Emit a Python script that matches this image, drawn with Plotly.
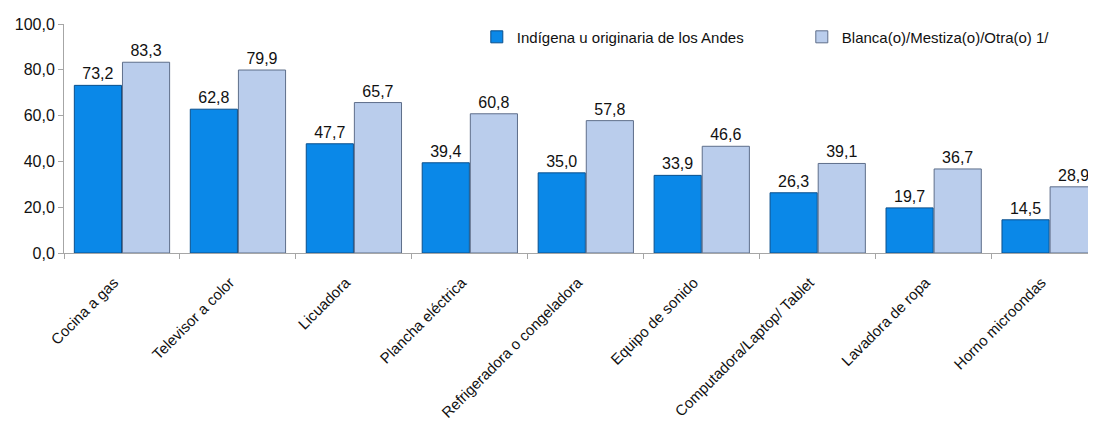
import plotly.graph_objects as go

categories = ["Cocina a gas", "Televisor a color", "Licuadora", "Plancha eléctrica",
              "Refrigeradora o congeladora", "Equipo de sonido",
              "Computadora/Laptop/ Tablet", "Lavadora de ropa", "Horno microondas"]
indigena = [73.2, 62.8, 47.7, 39.4, 35.0, 33.9, 26.3, 19.7, 14.5]
blanca = [83.3, 79.9, 65.7, 60.8, 57.8, 46.6, 39.1, 36.7, 28.9]
series_names = ["Indígena u originaria de los Andes", "Blanca(o)/Mestiza(o)/Otra(o) 1/"]
y_ticks = [0, 20, 40, 60, 80, 100]

font_family = "Liberation Sans, Arial, sans-serif"

fig = go.Figure()
fig.add_trace(go.Bar(
    x=categories, y=indigena, name=series_names[0],
    marker=dict(color="#0A88E8", line=dict(color="#0A4F8C", width=1)),
    text=[f"{v:.1f}".replace(".", ",") for v in indigena],
    textposition="outside", cliponaxis=False,
    textfont=dict(size=16, color="#111111", family=font_family),
))
fig.add_trace(go.Bar(
    x=categories, y=blanca, name=series_names[1],
    marker=dict(color="#BACDEC", line=dict(color="#5E6E8A", width=1)),
    text=[f"{v:.1f}".replace(".", ",") for v in blanca],
    textposition="outside", cliponaxis=False,
    textfont=dict(size=16, color="#111111", family=font_family),
))

fig.update_layout(
    width=1088, height=413,
    margin=dict(l=56, r=0, t=16, b=168, autoexpand=False),
    paper_bgcolor="white", plot_bgcolor="white",
    separators=",.",
    barmode="group", bargap=0.17, bargroupgap=0.02,
    font=dict(family=font_family, size=15, color="#111111"),
    showlegend=True,
    legend=dict(orientation="h", x=0.40, y=1.015, xanchor="left", yanchor="top",
                font=dict(size=15, family=font_family), bgcolor="rgba(0,0,0,0)",
                itemwidth=30, entrywidth=280),
    xaxis=dict(
        range=[-0.5, 8.40],
        tickangle=-45, showline=True, linecolor="#A6A6A6", linewidth=1,
        ticks="outside", tickson="boundaries", ticklen=5, tickcolor="#A6A6A6",
        tickfont=dict(size=15, family=font_family), automargin=False,
        ticklabelstandoff=14, ticklabelshift=-8,
    ),
    yaxis=dict(
        range=[0, 100], tickvals=y_ticks, tickformat=".1f",
        showline=True, linecolor="#A6A6A6", linewidth=1,
        ticks="outside", ticklen=5, tickcolor="#A6A6A6",
        showgrid=False, zeroline=False,
        tickfont=dict(size=16, family=font_family), automargin=False,
    ),
)

fig.write_html("out.html")
